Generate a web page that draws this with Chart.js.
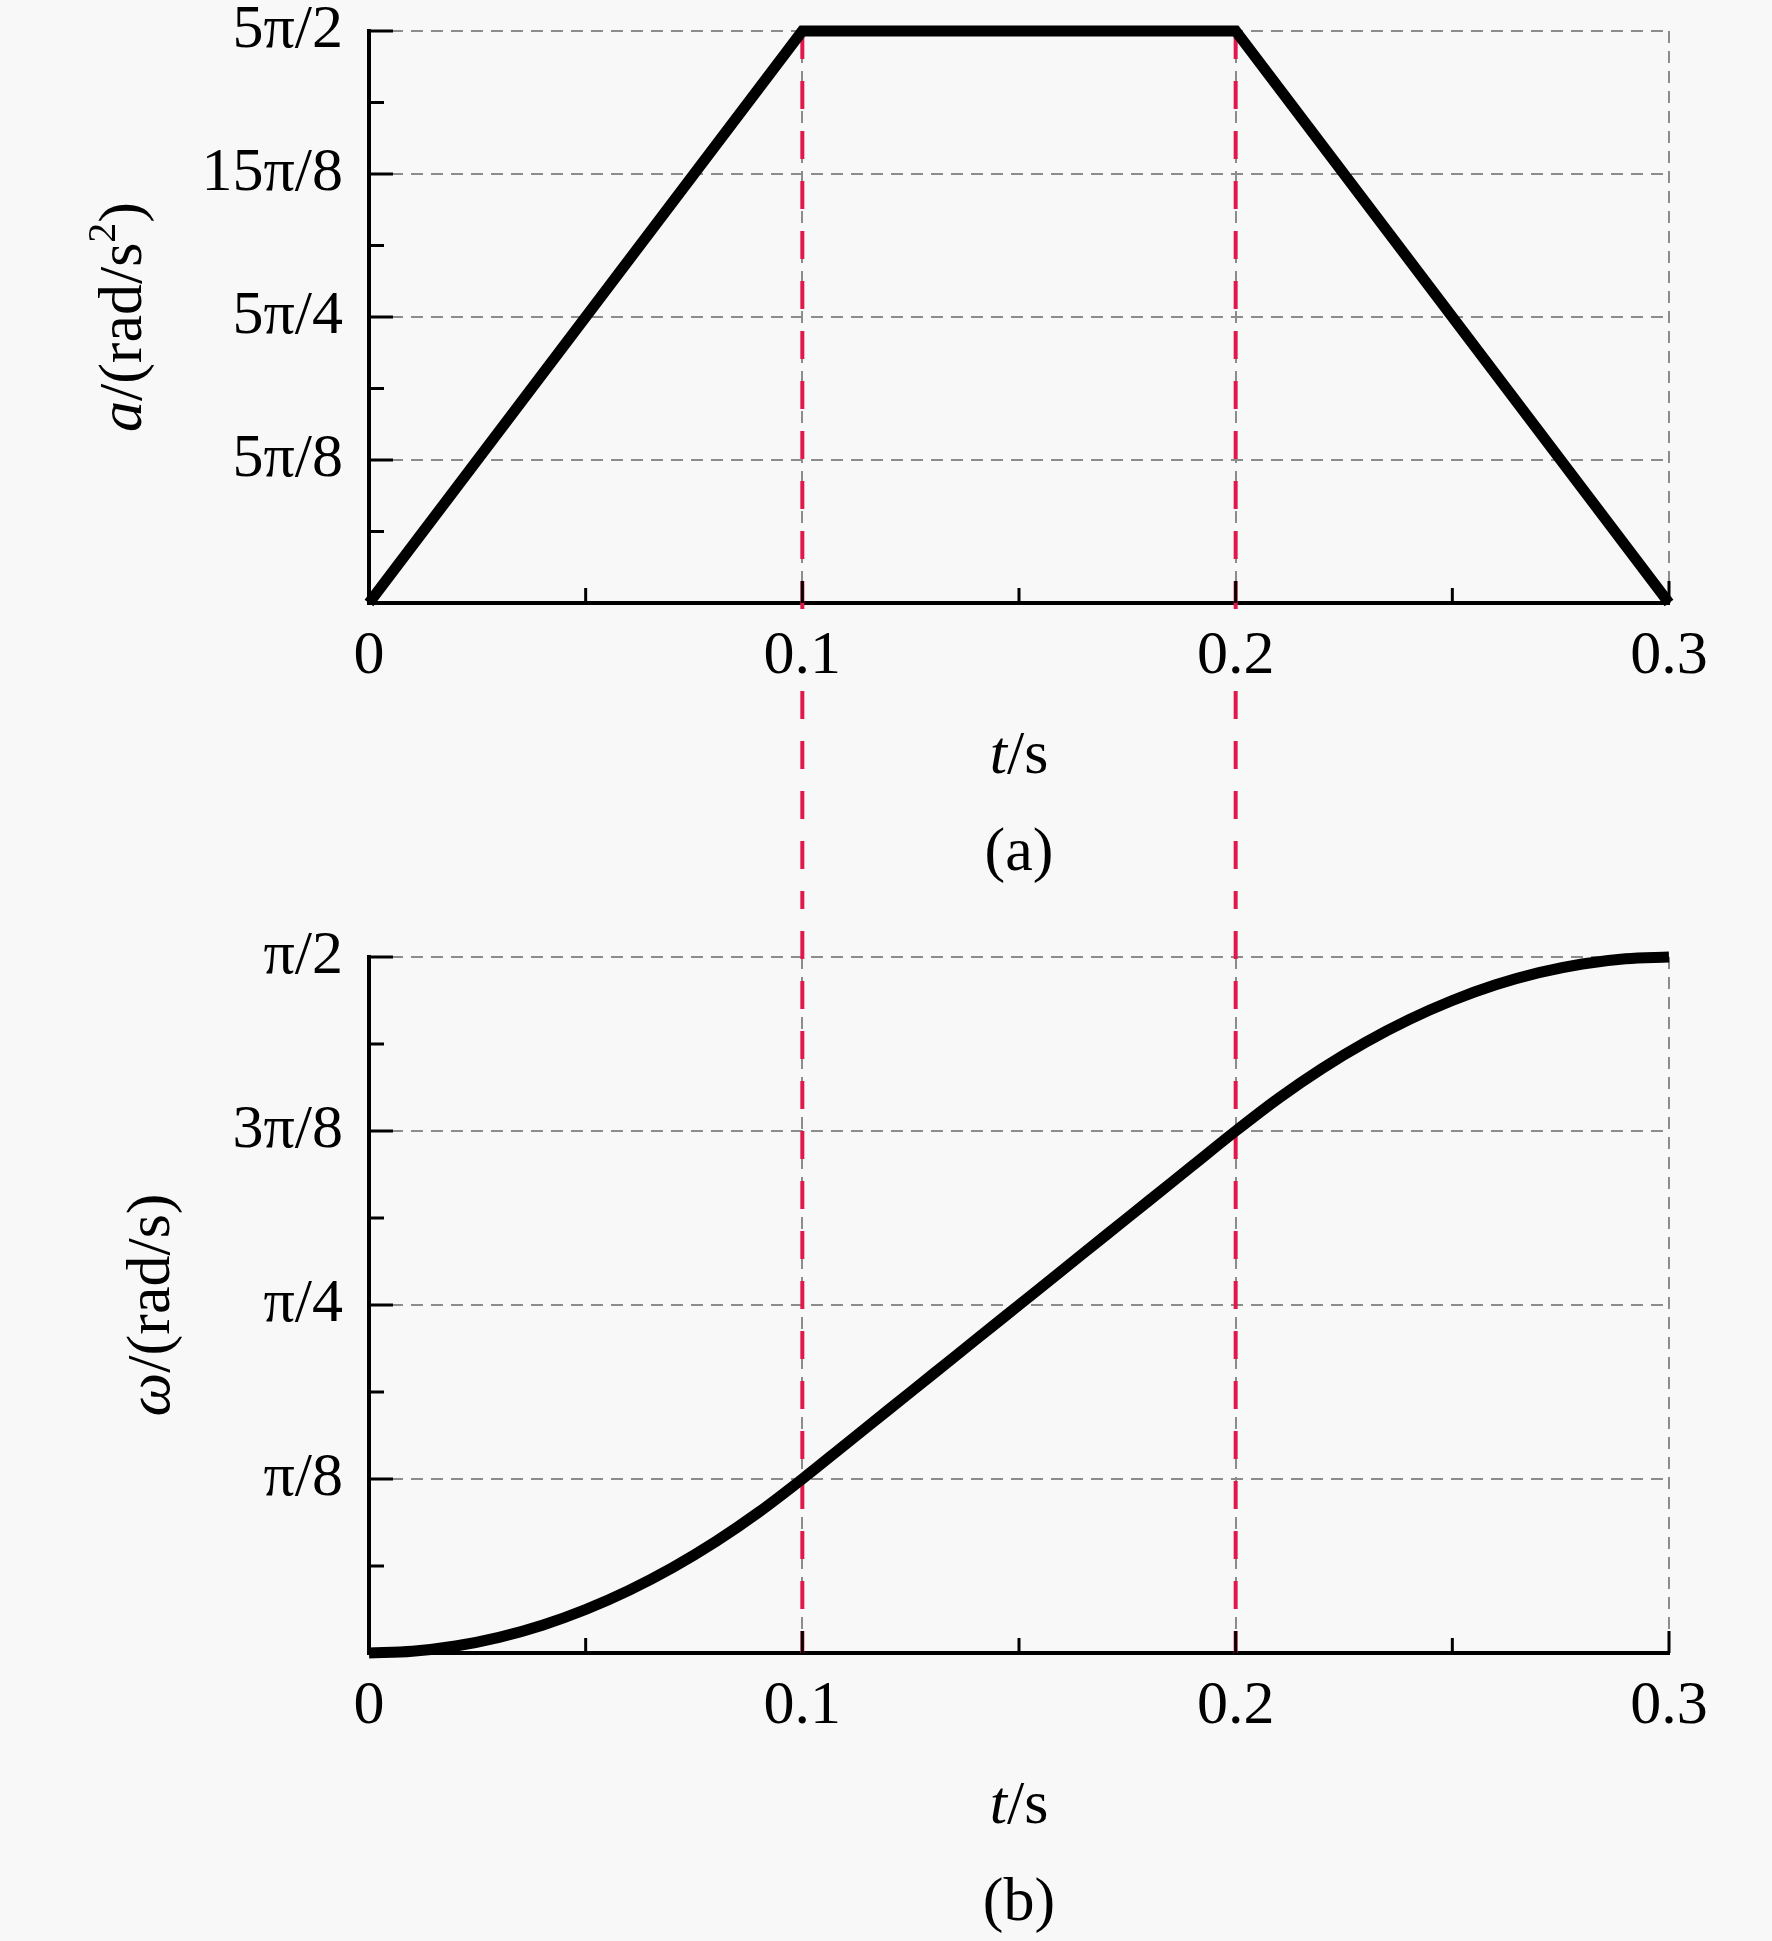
<!DOCTYPE html>
<html>
<head>
<meta charset="utf-8">
<script src="https://cdn.jsdelivr.net/npm/chart.js@4.4.1/dist/chart.umd.min.js"></script>
<style>
  html, body { margin: 0; padding: 0; background: #f8f8f8; }
  canvas { display: block; }
</style>
</head>
<body>
<canvas id="accel" width="1772" height="900"></canvas>
<canvas id="speed" width="1772" height="1041"></canvas>
<script>
// time axis (s)
const xTickValues = [0, 0.1, 0.2, 0.3];
const xTickLabels = ['0', '0.1', '0.2', '0.3'];
const xMinorTicks = [0.05, 0.15, 0.25];
const markerTimes = [0.1, 0.2];

// (a) angular acceleration, rad/s^2
const accelTime = [0, 0.1, 0.2, 0.3];
const accelValues = [0, 7.854, 7.854, 0];
const accelTickValues = [0, 1.9635, 3.927, 5.8905, 7.854];
const accelTickLabels = ['', '5π/8', '5π/4', '15π/8', '5π/2'];
const accelMinorTicks = [0.9817, 2.9452, 4.9087, 6.8722];

// (b) angular velocity, rad/s
const speedTime = [0, 0.01, 0.02, 0.03, 0.04, 0.05, 0.06, 0.07, 0.08, 0.09, 0.1,
  0.11, 0.12, 0.13, 0.14, 0.15, 0.16, 0.17, 0.18, 0.19, 0.2,
  0.21, 0.22, 0.23, 0.24, 0.25, 0.26, 0.27, 0.28, 0.29, 0.3];
const speedValues = [0, 0.0039, 0.0157, 0.0353, 0.0628, 0.0982, 0.1414, 0.1924, 0.2513, 0.3181, 0.3927,
  0.4712, 0.5498, 0.6283, 0.7069, 0.7854, 0.8639, 0.9425, 1.0210, 1.0996, 1.1781,
  1.2527, 1.3195, 1.3784, 1.4294, 1.4726, 1.5080, 1.5355, 1.5551, 1.5669, 1.5708];
const speedTickValues = [0, 0.3927, 0.7854, 1.1781, 1.5708];
const speedTickLabels = ['', 'π/8', 'π/4', '3π/8', 'π/2'];
const speedMinorTicks = [0.19635, 0.58905, 0.98175, 1.37445];

const FONT = 'Liberation Serif';
const FS = 62;

function drawPieces(ctx, pieces, cx, baseY) {
  let total = 0;
  pieces.forEach(p => {
    ctx.font = (p.italic ? 'italic ' : '') + (p.size || FS) + 'px "' + FONT + '"';
    p.w = ctx.measureText(p.text).width;
    total += p.w;
  });
  let xx = cx - total / 2;
  ctx.textAlign = 'left';
  ctx.textBaseline = 'alphabetic';
  pieces.forEach(p => {
    ctx.font = (p.italic ? 'italic ' : '') + (p.size || FS) + 'px "' + FONT + '"';
    ctx.fillText(p.text, xx, baseY - (p.rise || 0));
    xx += p.w;
  });
}

// red markers, inward ticks, mixed-style titles
const decor = {
  id: 'decor',
  beforeDatasetsDraw(chart, args, o) {
    const {ctx, chartArea: ca, scales: {x}} = chart;
    ctx.save();
    ctx.strokeStyle = '#e0184c';
    ctx.lineWidth = 4;
    ctx.setLineDash([28, 22]);
    ctx.lineDashOffset = o.dashOffset || 0;
    markerTimes.forEach(t => {
      const px = x.getPixelForValue(t);
      ctx.beginPath();
      if (o.markersDown) {
        // runs on below the axis, leaving the tick label clear
        ctx.moveTo(px, ca.top);
        ctx.lineTo(px, ca.bottom + 14);
        ctx.moveTo(px, ca.bottom + 88);
        ctx.lineTo(px, chart.height);
      } else {
        ctx.moveTo(px, 0);
        ctx.lineTo(px, ca.bottom);
      }
      ctx.stroke();
    });
    ctx.restore();
  },
  afterDraw(chart, args, o) {
    const {ctx, chartArea: ca, scales: {x, y}} = chart;
    ctx.save();
    ctx.strokeStyle = '#000';
    ctx.lineWidth = 3;
    const seg = (x1, y1, x2, y2) => {
      ctx.beginPath(); ctx.moveTo(x1, y1); ctx.lineTo(x2, y2); ctx.stroke();
    };
    xTickValues.forEach(v => { const px = x.getPixelForValue(v); seg(px, ca.bottom, px, ca.bottom - 22); });
    xMinorTicks.forEach(v => { const px = x.getPixelForValue(v); seg(px, ca.bottom, px, ca.bottom - 15); });
    o.yMajor.forEach(v => { const py = y.getPixelForValue(v); seg(ca.left, py, ca.left + 24, py); });
    o.yMinor.forEach(v => { const py = y.getPixelForValue(v); seg(ca.left, py, ca.left + 15, py); });

    ctx.fillStyle = '#000';
    const cx = (ca.left + ca.right) / 2;
    drawPieces(ctx, [{text: 't', italic: true}, {text: '/s'}], cx, ca.bottom + 170);
    drawPieces(ctx, [{text: o.caption}], cx, ca.bottom + 267);

    ctx.translate(o.yTitleBase, (ca.top + ca.bottom) / 2);
    ctx.rotate(-Math.PI / 2);
    drawPieces(ctx, o.yTitle, 0, 0);
    ctx.restore();
  }
};

function makeChart(id, xs, ys, cfg) {
  const canvas = document.getElementById(id);
  return new Chart(canvas, {
    type: 'line',
    data: {
      datasets: [{
        data: xs.map((t, i) => ({x: t, y: ys[i]})),
        borderColor: '#000',
        borderWidth: 11,
        pointRadius: 0,
        borderJoinStyle: 'miter',
        cubicInterpolationMode: cfg.smooth ? 'monotone' : 'default',
        clip: false
      }]
    },
    options: {
      responsive: false,
      animation: false,
      devicePixelRatio: 1,
      layout: { padding: { top: cfg.top, right: 103, left: 0, bottom: 0 } },
      plugins: {
        legend: { display: false },
        tooltip: { enabled: false },
        decor: cfg.decor
      },
      scales: {
        x: {
          type: 'linear',
          min: 0,
          max: 0.3,
          afterBuildTicks: s => { s.ticks = xTickValues.map(v => ({value: v})); },
          afterFit: s => { s.height = canvas.height - cfg.bottom; s.paddingLeft = 0; s.paddingRight = 0; },
          ticks: {
            color: '#000',
            padding: 17,
            maxRotation: 0,
            autoSkip: false,
            font: { family: FONT, size: FS },
            callback: (v, i) => xTickLabels[i]
          },
          grid: {
            drawTicks: false,
            lineWidth: 2,
            color: c => (c.tick && c.tick.value === 0) ? 'rgba(0,0,0,0)' : '#8c8c8c'
          },
          border: { display: true, color: '#000', width: 4, dash: [12, 8] }
        },
        y: {
          type: 'linear',
          min: 0,
          max: cfg.yTicks[cfg.yTicks.length - 1],
          afterBuildTicks: s => { s.ticks = cfg.yTicks.map(v => ({value: v})); },
          afterFit: s => { s.width = 369; s.paddingTop = 0; s.paddingBottom = 0; },
          ticks: {
            color: '#000',
            padding: 26,
            autoSkip: false,
            font: { family: FONT, size: FS },
            callback: (v, i) => cfg.yLabels[i]
          },
          grid: {
            drawTicks: false,
            lineWidth: 2,
            color: c => (c.tick && c.tick.value === 0) ? 'rgba(0,0,0,0)' : '#8c8c8c'
          },
          border: { display: true, color: '#000', width: 4, dash: [12, 8] }
        }
      }
    },
    plugins: [decor]
  });
}

makeChart('accel', accelTime, accelValues, {
  top: 31,
  bottom: 603,
  smooth: false,
  yTicks: accelTickValues,
  yLabels: accelTickLabels,
  decor: {
    markersDown: true,
    yMajor: accelTickValues,
    yMinor: accelMinorTicks,
    caption: '(a)',
    yTitleBase: 141,
    yTitle: [{text: 'a', italic: true}, {text: '/(rad/s'}, {text: '2', size: 40, rise: 26}, {text: ')'}]
  }
});

makeChart('speed', speedTime, speedValues, {
  top: 57,
  bottom: 753,
  smooth: true,
  yTicks: speedTickValues,
  yLabels: speedTickLabels,
  decor: {
    markersDown: false,
    dashOffset: 19,
    yMajor: speedTickValues,
    yMinor: speedMinorTicks,
    caption: '(b)',
    yTitleBase: 169,
    yTitle: [{text: 'ω', italic: true}, {text: '/(rad/s)'}]
  }
});
</script>
</body>
</html>
